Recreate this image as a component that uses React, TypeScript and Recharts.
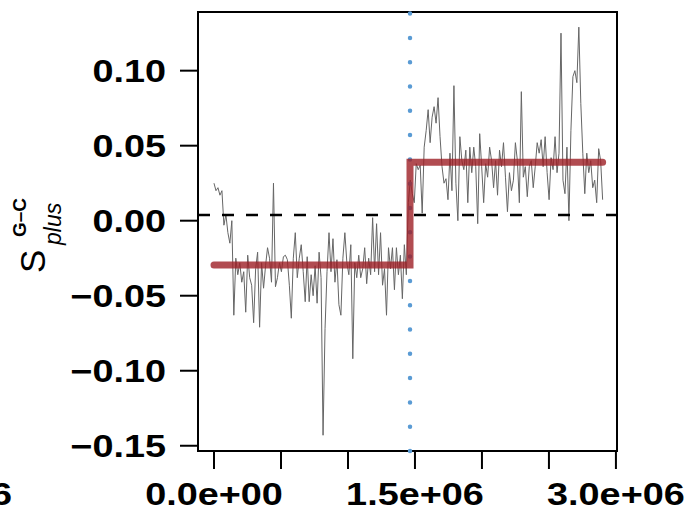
import React from "react";
import {
  LineChart,
  Line,
  XAxis,
  YAxis,
  ReferenceLine,
  ReferenceArea,
} from "recharts";

// sampling step along the genome (bp)
const STEP = 14800;

// smoothed statistic, left of the change point
const leftValues = [
  0.025, 0.02, 0.022, 0.017, 0.02, -0.003, 0.004, -0.008, -0.015, 0.0,
  -0.063, -0.025, -0.036, -0.028, -0.041, -0.034, -0.061, -0.023, -0.038, -0.043,
  -0.068, -0.032, -0.021, -0.071, -0.028, -0.045, -0.03, -0.018, -0.025, -0.041,
  0.025, -0.044, -0.038, -0.028, -0.034, -0.024, -0.023, -0.026, -0.043, -0.065,
  -0.025, -0.008, -0.038, -0.025, -0.016, -0.034, -0.054, -0.024, -0.054, -0.036,
  -0.05, -0.03, -0.055, -0.021, -0.038, -0.143, -0.072, -0.034, -0.008, -0.034,
  -0.012, -0.041, -0.026, -0.056, -0.063, -0.025, -0.008, -0.028, -0.036, -0.016,
  -0.092, -0.028, -0.038, -0.023, -0.038, -0.032, -0.018, -0.042, -0.025, -0.036,
  0.002, -0.034, -0.002, -0.036, -0.008, -0.043, -0.032, -0.063, -0.018, -0.032,
  -0.018, -0.046, -0.018, -0.036, -0.023, -0.052, -0.016, -0.036,
];

// right of the change point
const rightValues = [
  0.012, 0.027, 0.018, 0.012, 0.038, 0.034, 0.037, 0.005, 0.049, 0.06,
  0.074, 0.052, 0.069, 0.076, 0.065, 0.082, 0.056, 0.036, 0.025, 0.028,
  0.014, 0.045, 0.02, 0.09, 0.025, 0.0, 0.056, 0.04, 0.034, 0.047,
  0.012, 0.049, 0.032, 0.049, 0.036, -0.002, 0.058, 0.036, 0.012, 0.038,
  0.029, 0.049, 0.04, 0.022, 0.04, 0.017, 0.047, 0.036, 0.052, 0.029,
  0.006, 0.032, 0.02, 0.027, 0.052, 0.04, 0.012, 0.086, 0.029, 0.036,
  0.016, 0.036, 0.04, 0.022, 0.036, 0.052, 0.045, 0.054, 0.036, 0.056,
  0.032, 0.014, 0.042, 0.034, 0.056, 0.032, 0.045, 0.125, 0.027, 0.018,
  0.049, 0.0, 0.06, 0.096, 0.1, 0.092, 0.129, 0.078, 0.045, 0.018,
  0.045, 0.032, 0.04, 0.022, 0.027, 0.012, 0.048, 0.04, 0.014,
];

// segment means (step function)
const stepX = [0, 1463000, 1463000, 2900800];
const stepY = [-0.0295, -0.0295, 0.0389, 0.0389];

const CHANGE_POINT = 1463000;
const BASELINE = 0.0038;

const xTicks = [0, 500000, 1000000, 1500000, 2000000, 2500000, 3000000];
const xLabels: Record<number, string> = {
  0: "0.0e+00",
  1500000: "1.5e+06",
  3000000: "3.0e+06",
};
const yTicks = [-0.15, -0.1, -0.05, 0.0, 0.05, 0.1];

const X_DOMAIN = [-119400, 3008000];
const Y_DOMAIN = [-0.1535, 0.1391];

const FONT = "'Liberation Sans', Arial, sans-serif";
const TICK_FONT = 31;
const WIDEN = 1.22; // the original's labels are set wide

const series = [...leftValues, ...rightValues].map((y, i) => ({ x: i * STEP, y }));
const steps = stepX.map((x, i) => ({ x, y: stepY[i] }));

const fmtY = (v: number) => (v < 0 ? "\u2212" + Math.abs(v).toFixed(2) : v.toFixed(2));

function WideText({ x, y, anchor, dy, children }: any) {
  return (
    <text
      transform={`translate(${x},${y}) scale(${WIDEN},1)`}
      textAnchor={anchor}
      dy={dy}
      fontFamily={FONT}
      fontSize={TICK_FONT}
      fontWeight="bold"
      fill="#000"
    >
      {children}
    </text>
  );
}

function XTick({ x, y, payload }: any) {
  const label = xLabels[payload.value];
  if (!label) return null;
  return (
    <WideText x={x} y={y} anchor="middle" dy="0.71em">
      {label}
    </WideText>
  );
}

function YTick({ x, y, payload }: any) {
  return (
    <WideText x={x} y={y} anchor="end" dy="0.355em">
      {fmtY(payload.value)}
    </WideText>
  );
}

// S^{G-C}_{plus}, read bottom to top
function YLabel() {
  return (
    <g transform="translate(45, 273) rotate(-90)" fill="#000">
      <text fontFamily={FONT}>
        <tspan x={0} y={0} fontSize={35}>
          S
        </tspan>
        <tspan x={36} y={-19} fontSize={19} fontWeight="bold">
          G–C
        </tspan>
        <tspan x={28} y={16} fontSize={23} fontStyle="italic">
          plus
        </tspan>
      </text>
    </g>
  );
}

function StrayLabel() {
  return (
    <WideText x={12} y={483} anchor="end" dy="0.71em">
      {"\u22121.5e+06"}
    </WideText>
  );
}

export default function App() {
  return (
    <div style={{ position: "absolute", left: 0, top: 0, background: "#fff" }}>
      <LineChart width={685} height={515} margin={{ top: 12, right: 68, bottom: 0, left: 0 }}>
        <XAxis
          type="number"
          dataKey="x"
          domain={X_DOMAIN}
          ticks={xTicks}
          interval={0}
          allowDataOverflow
          height={64}
          axisLine={false}
          tickLine={{ stroke: "#000", strokeWidth: 2 }}
          tickSize={18}
          tickMargin={14}
          tick={<XTick />}
          label={<StrayLabel />}
        />
        <YAxis
          type="number"
          dataKey="y"
          domain={Y_DOMAIN}
          ticks={yTicks}
          interval={0}
          allowDataOverflow
          width={198}
          axisLine={false}
          tickLine={{ stroke: "#000", strokeWidth: 2 }}
          tickSize={18}
          tickMargin={14}
          tick={<YTick />}
          label={<YLabel />}
        />
        <ReferenceArea
          x1={X_DOMAIN[0]}
          x2={X_DOMAIN[1]}
          y1={Y_DOMAIN[0]}
          y2={Y_DOMAIN[1]}
          fill="none"
          stroke="#000"
          strokeWidth={2}
        />
        <Line
          data={series}
          dataKey="y"
          type="linear"
          stroke="#666"
          strokeWidth={1}
          dot={false}
          isAnimationActive={false}
        />
        <ReferenceLine y={BASELINE} stroke="#000" strokeWidth={2.5} strokeDasharray="12 12" />
        <ReferenceLine
          x={CHANGE_POINT}
          stroke="#5A9BD4"
          strokeWidth={4.5}
          strokeDasharray="0 24.3"
          strokeLinecap="round"
        />
        <Line
          data={steps}
          dataKey="y"
          type="linear"
          stroke="#9E1F25"
          strokeOpacity={0.8}
          strokeWidth={7}
          strokeLinecap="round"
          dot={false}
          isAnimationActive={false}
        />
      </LineChart>
    </div>
  );
}
